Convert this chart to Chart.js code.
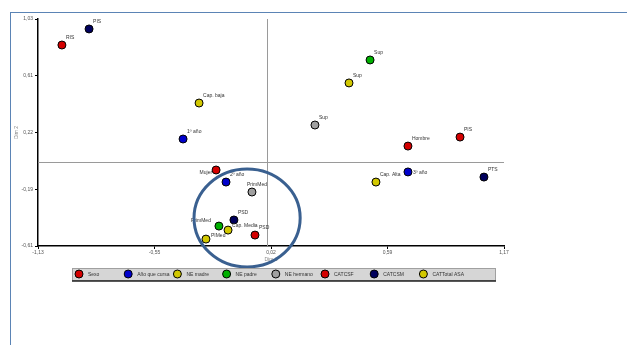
<!DOCTYPE html>
<html>
<head>
<meta charset="utf-8">
<script src="https://cdn.jsdelivr.net/npm/chart.js@4"></script>
<style>
  body { margin: 0; background: #fff; }
  #wrap { position: relative; width: 627px; height: 345px; overflow: hidden; }
  #frame { position: absolute; left: 10px; top: 12px; right: -2px; bottom: -2px;
           border-left: 1.5px solid #5b84b5; border-top: 1.5px solid #5b84b5; pointer-events: none; }
</style>
</head>
<body>
<div id="wrap">
  <canvas id="mcaChart" width="627" height="345"></canvas>
  <div id="frame"></div>
</div>
<script>
// Category groups (legend order)
const seriesNames = ["Sexo", "Año que cursa", "NE madre", "NE padre", "NE hermano", "CATCSF", "CATCSM", "CATTotal ASA"];

const sexoCats = ["Hombre", "Mujer"];
const sexoDim1 = [0.696, -0.251];
const sexoDim2 = [0.112, -0.061];

const cursoCats = ["1º año", "2º año", "3º año"];
const cursoDim1 = [-0.414, -0.202, 0.696];
const cursoDim2 = [0.163, -0.148, -0.075];

const madreCats = ["Sup", "PIMed"];
const madreDim1 = [0.405, -0.301];
const madreDim2 = [0.568, -0.560];

const padreCats = ["Sup", "PrimMed"];
const padreDim1 = [0.509, -0.237];
const padreDim2 = [0.734, -0.466];

const hermanoCats = ["Sup", "PrimMed"];
const hermanoDim1 = [0.237, -0.074];
const hermanoDim2 = [0.264, -0.220];

const csfCats = ["RIS", "PIS", "PSD"];
const csfDim1 = [-1.012, 0.953, -0.059];
const csfDim2 = [0.842, 0.177, -0.531];

const csmCats = ["PIS", "PTS", "PSD"];
const csmDim1 = [-0.878, 1.071, -0.163];
const csmDim2 = [0.958, -0.112, -0.422];

const asaCats = ["Cap. baja", "Cap. Media", "Cap. Alta"];
const asaDim1 = [-0.335, -0.192, 0.538];
const asaDim2 = [0.423, -0.495, -0.148];

// Axis ticks
const xTickVals = [-1.13, -0.555, 0.02, 0.595, 1.17];
const xTickText = ["-1,13", "-0,55", "0,02", "0,59", "1,17"];
const yTickVals = [-0.61, -0.20, 0.21, 0.62, 1.03];
const yTickText = ["-0,61", "-0,19", "0,22", "0,61", "1,03"];

const seriesColors = ["#d40000", "#0000cc", "#d2c800", "#00b000", "#a0a0a0", "#d40000", "#00005c", "#d2c800"];
const FONT = "'Liberation Sans', Arial, sans-serif";

let groups = [
    [sexoCats, sexoDim1, sexoDim2],
    [cursoCats, cursoDim1, cursoDim2],
    [madreCats, madreDim1, madreDim2],
    [padreCats, padreDim1, padreDim2],
    [hermanoCats, hermanoDim1, hermanoDim2],
    [csfCats, csfDim1, csfDim2],
    [csmCats, csmDim1, csmDim2],
    [asaCats, asaDim1, asaDim2]
];

let datasets = groups.map((g, i) => ({
    label: seriesNames[i],
    data: g[1].map((x, j) => ({ x: x, y: g[2][j], name: g[0][j] })),
    backgroundColor: seriesColors[i],
    borderColor: "#000",
    borderWidth: 1,
    pointRadius: 4,
    pointHoverRadius: 4
}));

// label placement overrides: "series:index" -> [align, dx, dy]
const labelPlace = {
    "0:1": ["right", -4, 3],
    "1:2": ["left", 5, 1],
    "2:1": ["left", 5, -3],
    "3:1": ["right", -8, -5],
    "7:1": ["left", 4, -4],
    "4:1": ["left", -5, -7]
};

// zero reference lines + ellipse + point labels + legend box
const mcaExtras = {
    id: "mcaExtras",
    beforeDatasetsDraw(chart) {
        let ctx = chart.ctx, a = chart.chartArea;
        let x0 = chart.scales.x.getPixelForValue(0);
        let y0 = chart.scales.y.getPixelForValue(0);
        ctx.save();
        ctx.strokeStyle = "#9a9a9a";
        ctx.lineWidth = 1;
        ctx.beginPath();
        ctx.moveTo(Math.round(x0) + 0.5, a.top);
        ctx.lineTo(Math.round(x0) + 0.5, a.bottom);
        ctx.moveTo(a.left, Math.round(y0) + 0.5);
        ctx.lineTo(a.right, Math.round(y0) + 0.5);
        ctx.stroke();
        ctx.restore();
    },
    afterDatasetsDraw(chart) {
        let ctx = chart.ctx;
        ctx.save();
        ctx.font = "5px " + FONT;
        ctx.fillStyle = "#333";
        ctx.textBaseline = "middle";
        chart.data.datasets.forEach((ds, i) => {
            let meta = chart.getDatasetMeta(i);
            meta.data.forEach((pt, j) => {
                let p = labelPlace[i + ":" + j] || ["left", 4, -7];
                ctx.textAlign = p[0];
                ctx.fillText(ds.data[j].name, pt.x + p[1], pt.y + p[2]);
            });
        });

        // highlighted cluster
        let sx = chart.scales.x, sy = chart.scales.y;
        let cx = sx.getPixelForValue(-0.098), cy = sy.getPixelForValue(-0.408);
        let rx = sx.getPixelForValue(0.262) - sx.getPixelForValue(0);
        let ry = sy.getPixelForValue(0) - sy.getPixelForValue(0.354);
        ctx.strokeStyle = "#3a6090";
        ctx.lineWidth = 3;
        ctx.beginPath();
        ctx.ellipse(cx, cy, rx, ry, 0, 0, Math.PI * 2);
        ctx.stroke();

        // legend
        let lx = 72, ly = 268, lw = 423, lh = 12;
        ctx.fillStyle = "#d6d6d6";
        ctx.fillRect(lx, ly, lw, lh);
        ctx.strokeStyle = "#a0a0a0";
        ctx.lineWidth = 1;
        ctx.strokeRect(lx + 0.5, ly + 0.5, lw, lh);
        ctx.strokeStyle = "#222";
        ctx.lineWidth = 1.5;
        ctx.beginPath();
        ctx.moveTo(lx, ly + lh + 1);
        ctx.lineTo(lx + lw + 1, ly + lh + 1);
        ctx.stroke();
        ctx.textAlign = "left";
        chart.data.datasets.forEach((ds, i) => {
            let mx = 79 + i * 49.2, my = ly + lh / 2;
            ctx.beginPath();
            ctx.arc(mx, my, 4, 0, Math.PI * 2);
            ctx.fillStyle = ds.backgroundColor;
            ctx.fill();
            ctx.strokeStyle = "#000";
            ctx.lineWidth = 1;
            ctx.stroke();
            ctx.fillStyle = "#333";
            ctx.fillText(ds.label, mx + 9, my + 0.5);
        });
        ctx.restore();
    }
};

let ctx1 = document.getElementById("mcaChart").getContext("2d");
let mcaChart = new Chart(ctx1, {
    type: "scatter",
    data: { datasets: datasets },
    plugins: [mcaExtras],
    options: {
        responsive: false,
        animation: false,
        events: [],
        layout: { padding: { left: 0, top: 19, right: 123, bottom: 82 } },
        plugins: { legend: { display: false }, tooltip: { enabled: false } },
        scales: {
            x: {
                type: "linear",
                min: -1.13,
                max: 1.17,
                afterBuildTicks: s => { s.ticks = xTickVals.map(v => ({ value: v })); },
                afterFit: s => { s.height = 17; },
                ticks: {
                    callback: (v, i) => xTickText[i],
                    font: { size: 5, family: FONT },
                    color: "#555",
                    padding: 1,
                    maxRotation: 0,
                    autoSkip: false
                },
                grid: { drawOnChartArea: false, drawTicks: true, tickLength: 3, color: "#000" },
                border: { color: "#000", width: 1.5 },
                title: { display: true, text: "Dim 1", font: { size: 5, family: FONT }, color: "#888", padding: { top: 1, bottom: 0 } }
            },
            y: {
                type: "linear",
                min: -0.61,
                max: 1.03,
                afterBuildTicks: s => { s.ticks = yTickVals.map(v => ({ value: v })); },
                afterFit: s => { s.width = 38; },
                ticks: {
                    callback: (v, i) => yTickText[i],
                    font: { size: 5, family: FONT },
                    color: "#555",
                    padding: 2,
                    autoSkip: false
                },
                grid: { drawOnChartArea: false, drawTicks: true, tickLength: 3, color: "#000" },
                border: { color: "#000", width: 1.5 },
                title: { display: true, text: "Dim 2", font: { size: 5, family: FONT }, color: "#888", padding: { top: 14, bottom: 0 } }
            }
        }
    }
});
</script>
</body>
</html>
